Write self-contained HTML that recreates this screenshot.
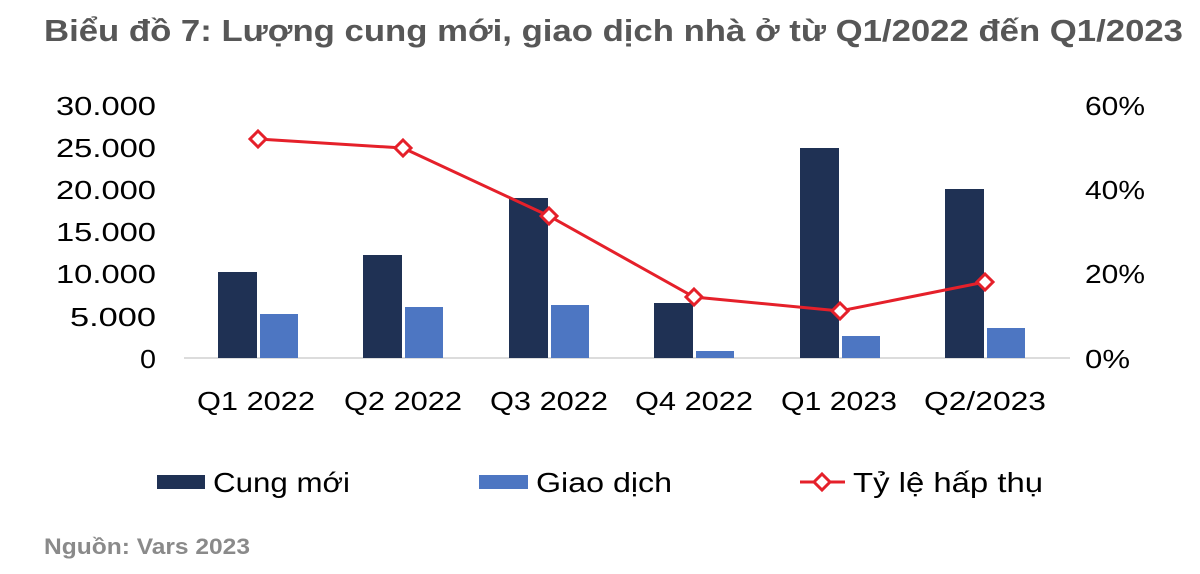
<!DOCTYPE html>
<html><head><meta charset="utf-8"><style>
html,body{margin:0;padding:0;background:#fff;}
svg{display:block;font-family:"Liberation Sans","DejaVu Sans",sans-serif;}
</style></head><body>
<svg width="1200" height="574" viewBox="0 0 1200 574" xmlns="http://www.w3.org/2000/svg">
<text x="44" y="41" font-size="31" font-weight="bold" fill="#575757" textLength="1139" lengthAdjust="spacingAndGlyphs">Biểu đồ 7: Lượng cung mới, giao dịch nhà ở từ Q1/2022 đến Q1/2023</text>
<g font-size="26" fill="#000" text-anchor="end">
<text x="156" y="115" textLength="100" lengthAdjust="spacingAndGlyphs">30.000</text>
<text x="156" y="157" textLength="100" lengthAdjust="spacingAndGlyphs">25.000</text>
<text x="156" y="199" textLength="100" lengthAdjust="spacingAndGlyphs">20.000</text>
<text x="156" y="241" textLength="100" lengthAdjust="spacingAndGlyphs">15.000</text>
<text x="156" y="283" textLength="100" lengthAdjust="spacingAndGlyphs">10.000</text>
<text x="156" y="326" textLength="86" lengthAdjust="spacingAndGlyphs">5.000</text>
<text x="156" y="368" textLength="16" lengthAdjust="spacingAndGlyphs">0</text>
</g>
<g font-size="26" fill="#000">
<text x="1085" y="115" textLength="60" lengthAdjust="spacingAndGlyphs">60%</text>
<text x="1085" y="199" textLength="60" lengthAdjust="spacingAndGlyphs">40%</text>
<text x="1085" y="283" textLength="60" lengthAdjust="spacingAndGlyphs">20%</text>
<text x="1085" y="368" textLength="45" lengthAdjust="spacingAndGlyphs">0%</text>
</g>
<line x1="184" y1="358" x2="1070" y2="358" stroke="#d0d0d0" stroke-width="1.5"/>
<g fill="#1f3154">
<rect x="218" y="272" width="39" height="86"/>
<rect x="363" y="255" width="39" height="103"/>
<rect x="509" y="198" width="39" height="160"/>
<rect x="654" y="303" width="39" height="55"/>
<rect x="800" y="148" width="39" height="210"/>
<rect x="945" y="189" width="39" height="169"/>
</g>
<g fill="#4d76c2">
<rect x="260" y="314" width="38" height="44"/>
<rect x="405" y="307" width="38" height="51"/>
<rect x="551" y="305" width="38" height="53"/>
<rect x="696" y="351" width="38" height="7"/>
<rect x="842" y="336" width="38" height="22"/>
<rect x="987" y="328" width="38" height="30"/>
</g>
<polyline points="258,139 403,148 549,216 694,297 840,311 985,282" fill="none" stroke="#e5202a" stroke-width="3"/>
<g fill="#fff" stroke="#e5202a" stroke-width="3">
<path d="M258,131 l8,8 -8,8 -8,-8z"/>
<path d="M403,140 l8,8 -8,8 -8,-8z"/>
<path d="M549,208 l8,8 -8,8 -8,-8z"/>
<path d="M694,289 l8,8 -8,8 -8,-8z"/>
<path d="M840,303 l8,8 -8,8 -8,-8z"/>
<path d="M985,274 l8,8 -8,8 -8,-8z"/>
</g>
<g font-size="26" fill="#000">
<text x="197" y="410" textLength="118" lengthAdjust="spacingAndGlyphs">Q1 2022</text>
<text x="344" y="410" textLength="118" lengthAdjust="spacingAndGlyphs">Q2 2022</text>
<text x="490" y="410" textLength="118" lengthAdjust="spacingAndGlyphs">Q3 2022</text>
<text x="635" y="410" textLength="118" lengthAdjust="spacingAndGlyphs">Q4 2022</text>
<text x="781" y="410" textLength="116" lengthAdjust="spacingAndGlyphs">Q1 2023</text>
<text x="924" y="410" textLength="122" lengthAdjust="spacingAndGlyphs">Q2/2023</text>
</g>
<rect x="157" y="475" width="48" height="14" fill="#1f3154"/>
<text x="213" y="492" font-size="28" fill="#000" textLength="137" lengthAdjust="spacingAndGlyphs">Cung mới</text>
<rect x="479" y="475" width="49" height="14" fill="#4d76c2"/>
<text x="536" y="492" font-size="28" fill="#000" textLength="136" lengthAdjust="spacingAndGlyphs">Giao dịch</text>
<line x1="800" y1="482" x2="845" y2="482" stroke="#e5202a" stroke-width="3"/>
<path d="M822,474 l8,8 -8,8 -8,-8z" fill="#fff" stroke="#e5202a" stroke-width="3"/>
<text x="853" y="492" font-size="28" fill="#000" textLength="190" lengthAdjust="spacingAndGlyphs">Tỷ lệ hấp thụ</text>
<text x="44" y="554" font-size="22" font-weight="bold" fill="#8a8a8a" textLength="206" lengthAdjust="spacingAndGlyphs">Nguồn: Vars 2023</text>
</svg>
</body></html>
